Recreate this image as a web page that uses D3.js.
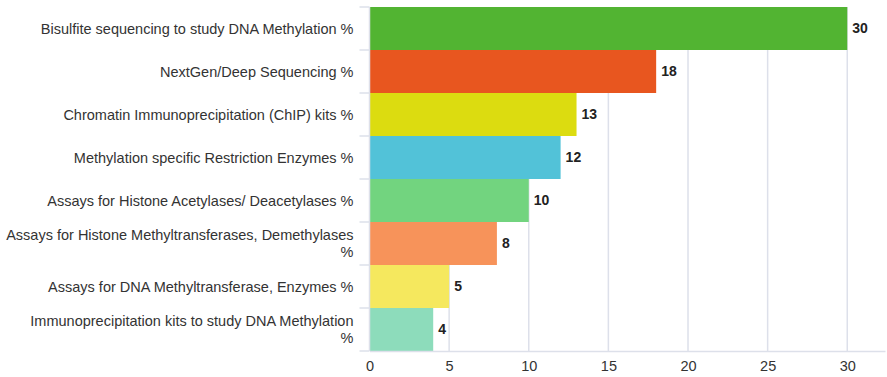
<!DOCTYPE html>
<html>
<head>
<meta charset="utf-8">
<script src="https://cdn.jsdelivr.net/npm/d3@7"></script>
<style>
  html, body { margin: 0; padding: 0; background: #fff; }
  svg { display: block; font-family: "Liberation Sans", Arial, Helvetica, sans-serif; }
</style>
</head>
<body>
<svg id="chart" width="887" height="377"></svg>
<script>
// Survey responses: share of labs using each epigenetics technique
const categories = [
  "Bisulfite sequencing to study DNA Methylation %",
  "NextGen/Deep Sequencing %",
  "Chromatin Immunoprecipitation (ChIP) kits %",
  "Methylation specific Restriction Enzymes %",
  "Assays for Histone Acetylases/ Deacetylases %",
  "Assays for Histone Methyltransferases, Demethylases %",
  "Assays for DNA Methyltransferase, Enzymes %",
  "Immunoprecipitation kits to study DNA Methylation %"
];
const values = [30, 18, 13, 12, 10, 8, 5, 4];
const barColors = ["#52b432", "#e8561f", "#dcdc10", "#52c2d8", "#72d47f", "#f7935a", "#f5e85e", "#8ddcbb"];
const xTicks = [0, 5, 10, 15, 20, 25, 30];

const svg = d3.select("#chart");
const W = 887, H = 377;
const margin = { top: 7, right: 2, bottom: 26, left: 369.5 };
const innerW = W - margin.left - margin.right;
const innerH = H - margin.top - margin.bottom;

const x = d3.scaleLinear().domain([0, 32.37]).range([0, innerW]);
const y = d3.scaleBand().domain(categories).range([0, innerH]).padding(0);

const g = svg.append("g").attr("transform", `translate(${margin.left},${margin.top})`);

// vertical grid lines
g.append("g").selectAll("line").data(xTicks.filter(t => t > 0)).join("line")
  .attr("x1", d => x(d)).attr("x2", d => x(d))
  .attr("y1", 0).attr("y2", innerH)
  .attr("stroke", "#dde0ea").attr("stroke-width", 1.5);

// bars
g.append("g").selectAll("rect").data(values).join("rect")
  .attr("x", 0)
  .attr("y", (d, i) => y(categories[i]))
  .attr("width", d => x(d))
  .attr("height", y.bandwidth())
  .attr("fill", (d, i) => barColors[i]);

// value labels
g.append("g").selectAll("text").data(values).join("text")
  .attr("x", d => x(d) + 5)
  .attr("y", (d, i) => y(categories[i]) + y.bandwidth() / 2)
  .attr("dy", "0.35em")
  .attr("font-size", 14)
  .attr("font-weight", "bold")
  .attr("fill", "#222")
  .text(d => d);

// y axis: tick marks at band boundaries
const bounds = categories.map(c => y(c)).concat([innerH]);
g.append("g").selectAll("line").data(bounds).join("line")
  .attr("x1", -10).attr("x2", 0)
  .attr("y1", d => d).attr("y2", d => d)
  .attr("stroke", "#dde0ea").attr("stroke-width", 1.5);
g.append("line")
  .attr("x1", 0).attr("x2", 0).attr("y1", 0).attr("y2", innerH)
  .attr("stroke", "#dde0ea").attr("stroke-width", 1.5);

// category labels; long ones drop the trailing "%" onto a second line
const maxLabelW = 330;
const labelFont = 14.5;
const labelG = g.append("g");
categories.forEach((c, i) => {
  const t = labelG.append("text")
    .attr("text-anchor", "end")
    .attr("font-size", labelFont)
    .attr("fill", "#333");
  t.text(c);
  let lines = [c];
  if (t.node().getComputedTextLength() > maxLabelW && c.endsWith(" %")) {
    lines = [c.slice(0, -2), "%"];
  }
  t.text(null);
  const lh = 17.5;
  const cy = y(c) + y.bandwidth() / 2 - (lines.length - 1) * lh / 2;
  lines.forEach((ln, k) => {
    t.append("tspan").attr("x", -16).attr("y", cy + k * lh).attr("dy", "0.35em").text(ln);
  });
});

// x axis
const xAxis = g.append("g").attr("transform", `translate(0,${innerH})`)
  .call(d3.axisBottom(x).tickValues(xTicks).tickSize(0).tickPadding(10));
xAxis.select(".domain").attr("stroke", "#dde0ea").attr("stroke-width", 1.5);
xAxis.selectAll("text").attr("font-size", 14.5).attr("fill", "#333")
  .attr("font-family", "\"Liberation Sans\", Arial, sans-serif");
</script>
</body>
</html>
